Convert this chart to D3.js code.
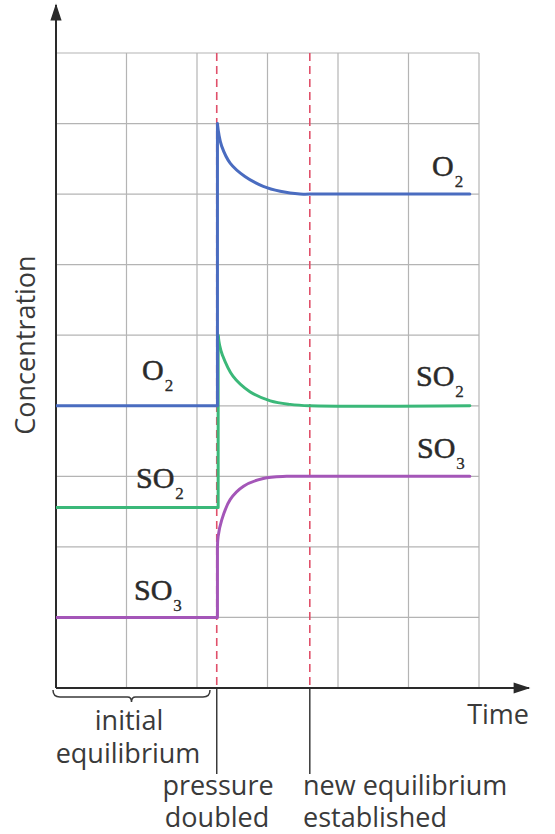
<!DOCTYPE html>
<html>
<head>
<meta charset="utf-8">
<script src="https://cdn.jsdelivr.net/npm/d3@7"></script>
<style>
  body { margin: 0; background: #fff; }
  .note { font-family: "Open Sans", sans-serif; font-size: 27px; fill: #3a3a3a; }
  .species { font-family: "Liberation Serif", serif; font-size: 30px; fill: #2a2a2a; stroke: #2a2a2a; stroke-width: 0.5; }
</style>
</head>
<body>
<div class="graph"></div>
<script>
var width = 555,
    height = 834;

// time axis: 0..6 grid columns, concentration: 0..9 grid rows (arbitrary units)
var timeTicks = [0, 1, 2, 3, 4, 5, 6];
var concTicks = [0, 1, 2, 3, 4, 5, 6, 7, 8, 9];

var tChange = 2.28;    // pressure doubled
var tNewEq = 3.6;      // new equilibrium established

// each series: step part before the change, then the curved response
var o2Before  = [[0, 4.0], [2.29, 4.0], [2.29, 8.0]];
var o2After   = [[2.29, 8.0], [2.31, 7.85], [2.35, 7.68], [2.47, 7.44], [2.68, 7.25], [2.94, 7.11], [3.18, 7.04], [3.46, 7.0], [3.6, 7.0], [5.87, 7.0]];

var so2Before = [[0, 2.56], [2.30, 2.56], [2.30, 5.0]];
var so2After  = [[2.30, 5.0], [2.32, 4.86], [2.36, 4.72], [2.51, 4.42], [2.75, 4.2], [3.04, 4.07], [3.32, 4.02], [3.6, 4.0], [5.87, 4.0]];

var so3Before = [[0, 1.0], [2.29, 1.0], [2.29, 2.0]];
var so3After  = [[2.29, 2.0], [2.30, 2.15], [2.35, 2.38], [2.47, 2.67], [2.66, 2.86], [2.94, 2.97], [3.27, 3.0], [3.6, 3.0], [5.87, 3.0]];

var x = d3.scaleLinear().domain([0, 6]).range([56, 479]);
var y = d3.scaleLinear().domain([0, 9]).range([688, 53]);

var svg = d3.select(".graph").append("svg")
    .attr("width", width)
    .attr("height", height);

var defs = svg.append("defs");
defs.append("marker")
    .attr("id", "arrow")
    .attr("viewBox", "0 0 12 10")
    .attr("refX", 11).attr("refY", 5)
    .attr("markerWidth", 10).attr("markerHeight", 7)
    .attr("markerUnits", "strokeWidth")
    .attr("orient", "auto")
  .append("path")
    .attr("d", "M0,1 L12,5 L0,9 z")
    .attr("fill", "#2a2a2a");

// grid
var grid = svg.append("g").attr("class", "grid");
grid.selectAll(".vgrid")
    .data(timeTicks.slice(1))
  .enter().append("line")
    .attr("x1", function(d) { return x(d); })
    .attr("x2", function(d) { return x(d); })
    .attr("y1", y(0)).attr("y2", y(9))
    .attr("stroke", "#b4b4b4").attr("stroke-width", 1.2);
grid.selectAll(".hgrid")
    .data(concTicks.slice(1))
  .enter().append("line")
    .attr("x1", x(0)).attr("x2", x(6))
    .attr("y1", function(d) { return y(d); })
    .attr("y2", function(d) { return y(d); })
    .attr("stroke", "#b4b4b4").attr("stroke-width", 1.2);

// dashed event lines, with leaders down to the notes
[tChange, tNewEq].forEach(function(t) {
  svg.append("line")
      .attr("x1", x(t)).attr("x2", x(t))
      .attr("y1", y(9)).attr("y2", y(0))
      .attr("stroke", "#e0506a").attr("stroke-width", 1.6)
      .attr("stroke-dasharray", "8,5");
  svg.append("line")
      .attr("x1", x(t)).attr("x2", x(t))
      .attr("y1", y(0)).attr("y2", 774)
      .attr("stroke", "#3a3a3a").attr("stroke-width", 1.5);
});

// axes with arrows
svg.append("line")
    .attr("x1", x(0)).attr("y1", y(0))
    .attr("x2", x(0)).attr("y2", 5)
    .attr("stroke", "#2a2a2a").attr("stroke-width", 2)
    .attr("marker-end", "url(#arrow)");
svg.append("line")
    .attr("x1", x(0)).attr("y1", y(0))
    .attr("x2", 529).attr("y2", y(0))
    .attr("stroke", "#2a2a2a").attr("stroke-width", 2)
    .attr("marker-end", "url(#arrow)");

// curves
var stepLine = d3.line()
    .x(function(d) { return x(d[0]); })
    .y(function(d) { return y(d[1]); });
var smoothLine = d3.line()
    .x(function(d) { return x(d[0]); })
    .y(function(d) { return y(d[1]); })
    .curve(d3.curveCatmullRom.alpha(0.5));

var series = [
  { before: so3Before, after: so3After, color: "#a456b8" },
  { before: so2Before, after: so2After, color: "#3bb879" },
  { before: o2Before,  after: o2After,  color: "#4a6cc0" }
];

series.forEach(function(s) {
  svg.append("path")
      .attr("d", stepLine(s.before))
      .attr("fill", "none").attr("stroke", s.color)
      .attr("stroke-width", 3).attr("stroke-linejoin", "round");
  svg.append("path")
      .attr("d", smoothLine(s.after))
      .attr("fill", "none").attr("stroke", s.color)
      .attr("stroke-width", 3).attr("stroke-linecap", "round");
});

// species labels
var labels = [
  { main: "O",  sub: "2", x: 432, y: 176 },
  { main: "O",  sub: "2", x: 142, y: 380 },
  { main: "SO", sub: "2", x: 136, y: 488 },
  { main: "SO", sub: "3", x: 134, y: 600 },
  { main: "SO", sub: "2", x: 416, y: 386 },
  { main: "SO", sub: "3", x: 417, y: 458 }
];

labels.forEach(function(l) {
  var t = svg.append("text")
      .attr("class", "species")
      .attr("x", l.x).attr("y", l.y);
  t.append("tspan").text(l.main);
  t.append("tspan")
      .attr("dy", 11)
      .attr("dx", 1)
      .style("font-size", "17px")
      .style("stroke-width", 0.3)
      .text(l.sub);
});

// brace under initial equilibrium
var bx0 = 53, bx1 = 210, by = 697, bm = (bx0 + bx1) / 2;
svg.append("path")
    .attr("d", "M" + bx0 + "," + (by - 7) +
               " Q" + bx0 + "," + by + " " + (bx0 + 7) + "," + by +
               " L" + (bm - 4) + "," + by +
               " Q" + bm + "," + by + " " + bm + "," + (by + 5) +
               " Q" + bm + "," + by + " " + (bm + 4) + "," + by +
               " L" + (bx1 - 7) + "," + by +
               " Q" + bx1 + "," + by + " " + bx1 + "," + (by - 7))
    .attr("fill", "none").attr("stroke", "#3a3a3a").attr("stroke-width", 1.5);

// notes
var notes = [
  { text: "initial",         x: 129, y: 730, anchor: "middle" },
  { text: "equilibrium",     x: 128, y: 763, anchor: "middle" },
  { text: "pressure",        x: 218, y: 795, anchor: "middle" },
  { text: "doubled",         x: 217, y: 827, anchor: "middle" },
  { text: "new equilibrium", x: 303, y: 795, anchor: "start" },
  { text: "established",     x: 303, y: 827, anchor: "start" },
  { text: "Time",            x: 529, y: 724, anchor: "end" }
];

svg.selectAll(".note")
    .data(notes)
  .enter().append("text")
    .attr("class", "note")
    .attr("x", function(d) { return d.x; })
    .attr("y", function(d) { return d.y; })
    .attr("text-anchor", function(d) { return d.anchor; })
    .text(function(d) { return d.text; });

svg.append("text")
    .attr("class", "note")
    .attr("transform", "translate(35,345) rotate(-90)")
    .attr("text-anchor", "middle")
    .text("Concentration");
</script>
</body>
</html>
